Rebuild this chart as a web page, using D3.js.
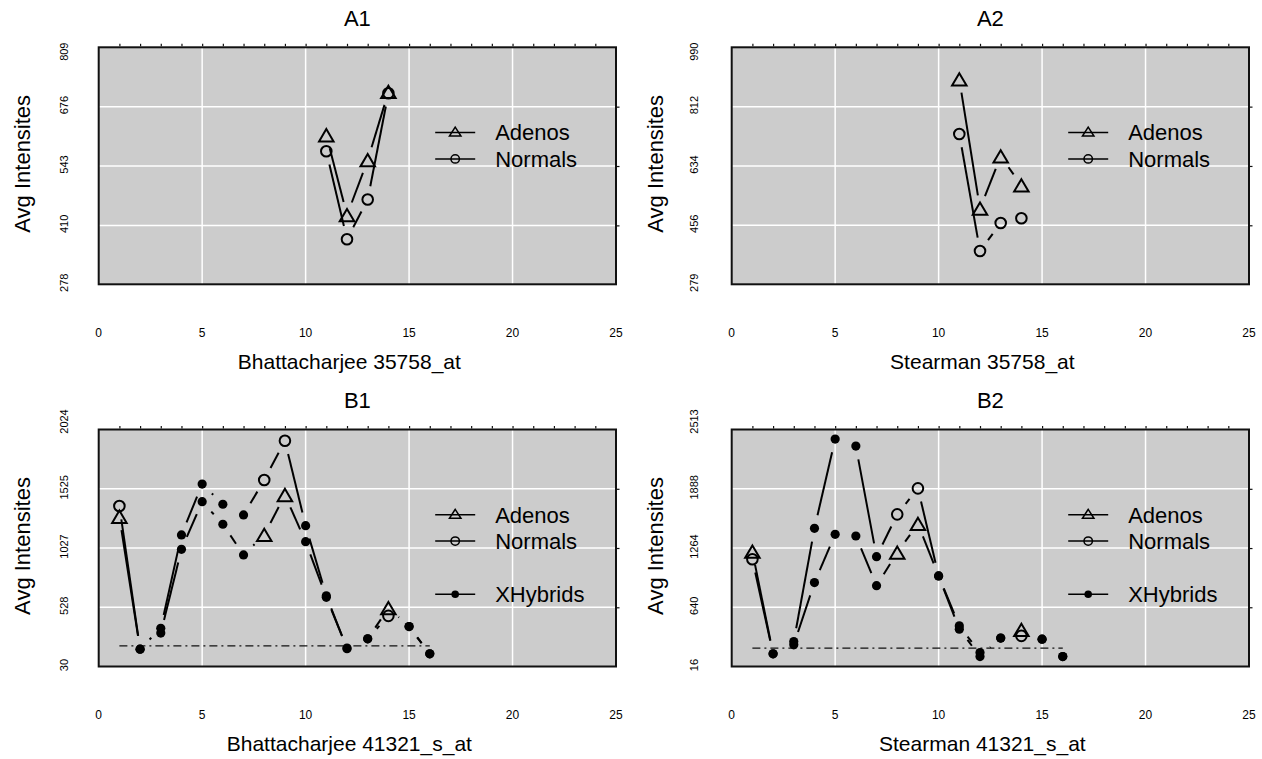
<!DOCTYPE html>
<html><head><meta charset="utf-8">
<style>
body{margin:0;background:#fff;}
svg text{font-family:"Liberation Sans",Arial,Helvetica,sans-serif;fill:#000;}
</style></head><body>
<script src="https://cdn.jsdelivr.net/npm/d3@7/dist/d3.min.js"></script>
<script>
const xTicks = [0, 5, 10, 15, 20, 25];

// probe set 35758_at, probes 11-14
const probesA = [11, 12, 13, 14];
const a1Adenos = [612, 433, 556, 709];
const a1Normals = [576, 379, 468, 706];
const a1YTicks = [278, 410, 543, 676, 809];
const a2Adenos = [894, 506, 663, 576];
const a2Normals = [730, 379, 463, 477];
const a2YTicks = [279, 456, 634, 812, 990];

// probe set 41321_s_at, probes 1-16
const probesB = [1, 2, 3, 4, 5, 6, 7, 8, 9, 10, 11, 12, 13, 14, 15, 16];
const xhybridProbes = [2, 3, 4, 5, 6, 7, 10, 11, 12, 13, 15, 16];
const b1Adenos = [1290, 176, 311, 1016, 1417, 1227, 969, 1137, 1473, 1080, 612, 185, 263, 521, 366, 137];
const b1Normals = [1380, 176, 352, 1137, 1565, 1395, 1305, 1599, 1929, 1215, 625, 180, 263, 456, 366, 137];
const b1Cutoff = 204;
const b1YTicks = [30, 528, 1027, 1525, 2024];
const b2Adenos = [1226, 150, 244, 900, 1409, 1391, 868, 1216, 1518, 970, 409, 121, 315, 402, 304, 121];
const b2Normals = [1146, 150, 279, 1472, 2412, 2338, 1173, 1619, 1893, 970, 444, 163, 315, 339, 304, 121];
const b2Cutoff = 210;
const b2YTicks = [16, 640, 1264, 1888, 2513];

const W = 1262, H = 759;
const plotW = 517.3, plotH = 237;
const gap = 13.5;

const panels = [
  {title: "A1", xlab: "Bhattacharjee 35758_at", probes: probesA, adenos: a1Adenos, normals: a1Normals, yTicks: a1YTicks, left: 98.7, top: 47.3, tickX: 63.7, topShift: 4.4},
  {title: "A2", xlab: "Stearman 35758_at", probes: probesA, adenos: a2Adenos, normals: a2Normals, yTicks: a2YTicks, left: 731.7, top: 47.3, tickX: 694, topShift: 4.4},
  {title: "B1", xlab: "Bhattacharjee 41321_s_at", probes: probesB, adenos: b1Adenos, normals: b1Normals, cutoff: b1Cutoff, yTicks: b1YTicks, left: 98.7, top: 429.5, tickX: 63.7, topShift: -8},
  {title: "B2", xlab: "Stearman 41321_s_at", probes: probesB, adenos: b2Adenos, normals: b2Normals, cutoff: b2Cutoff, yTicks: b2YTicks, left: 731.7, top: 429.5, tickX: 694, topShift: -8}
];

const svg = d3.select("body").append("svg")
  .attr("width", W)
  .attr("height", H);

function triPath(w, h) {
  return "M0," + (-h / 2) + "L" + (w / 2) + "," + (h / 2) + "L" + (-w / 2) + "," + (h / 2) + "Z";
}

// lines with gaps round the points, like type="b"
function gappedSegments(pts) {
  var segs = [];
  for (var i = 0; i < pts.length - 1; i++) {
    var p = pts[i], q = pts[i + 1];
    var dx = q[0] - p[0], dy = q[1] - p[1];
    var len = Math.sqrt(dx * dx + dy * dy);
    if (len <= 2 * gap) continue;
    var ux = dx / len, uy = dy / len;
    segs.push([p[0] + ux * gap, p[1] + uy * gap, q[0] - ux * gap, q[1] - uy * gap]);
  }
  return segs;
}

panels.forEach(function(p) {
  var x = d3.scaleLinear().domain([0, 25]).range([p.left, p.left + plotW]);
  var y = d3.scaleLinear().domain([p.yTicks[0], p.yTicks[4]]).range([p.top + plotH, p.top]);
  var bottom = p.top + plotH;
  var cx = p.left + plotW / 2;
  var g = svg.append("g");

  g.append("rect")
    .attr("x", p.left).attr("y", p.top)
    .attr("width", plotW).attr("height", plotH)
    .attr("fill", "#cccccc");

  // grid
  g.selectAll(".vg").data([5, 10, 15, 20]).enter().append("line")
    .attr("x1", d => x(d)).attr("x2", d => x(d))
    .attr("y1", p.top).attr("y2", bottom)
    .attr("stroke", "#fff").attr("stroke-width", 1.5);
  g.selectAll(".hg").data(p.yTicks.slice(1, 4)).enter().append("line")
    .attr("x1", p.left).attr("x2", p.left + plotW)
    .attr("y1", d => y(d)).attr("y2", d => y(d))
    .attr("stroke", "#fff").attr("stroke-width", 1.5);

  // border
  g.append("rect")
    .attr("x", p.left).attr("y", p.top)
    .attr("width", plotW).attr("height", plotH)
    .attr("fill", "none").attr("stroke", "#111").attr("stroke-width", 2);

  // minor ticks along the top
  var topAxis = g.append("g")
    .attr("transform", "translate(0," + (p.top - 1) + ")")
    .call(d3.axisTop(x).tickValues(d3.range(1, 25)).tickSize(2.5).tickFormat(""));
  topAxis.select(".domain").remove();
  topAxis.selectAll("line").attr("stroke", "#111").attr("stroke-width", 1.2);

  // ticks on the right edge
  var rightAxis = g.append("g")
    .attr("transform", "translate(" + (p.left + plotW + 1) + ",0)")
    .call(d3.axisRight(y).tickValues(p.yTicks.slice(1, 4)).tickSize(2.5).tickFormat(""));
  rightAxis.select(".domain").remove();
  rightAxis.selectAll("line").attr("stroke", "#111").attr("stroke-width", 1.2);

  // x tick labels
  g.selectAll(".xt").data(xTicks).enter().append("text")
    .attr("x", d => x(d)).attr("y", bottom + 48 + 4.3)
    .attr("text-anchor", "middle")
    .attr("font-size", "12px")
    .text(d => d);

  // y tick labels, rotated
  g.selectAll(".yt").data(p.yTicks).enter().append("text")
    .attr("transform", function(d, i) {
      var yy = y(d) + (i === 4 ? p.topShift : -1.5);
      return "translate(" + (p.tickX + 4) + "," + yy + ") rotate(-90)";
    })
    .attr("text-anchor", "middle")
    .attr("font-size", "11px")
    .text(d => d);

  // titles
  g.append("text")
    .attr("x", cx).attr("y", p.top - 29 + 7.7)
    .attr("text-anchor", "middle")
    .attr("font-size", "22px")
    .text(p.title);
  g.append("text")
    .attr("x", cx - 8).attr("y", bottom + 77 + 7.4)
    .attr("text-anchor", "middle")
    .attr("font-size", "21px")
    .text(p.xlab);
  g.append("text")
    .attr("transform", "translate(" + (p.left - 76.7 + 7.7) + "," + (p.top + plotH / 2 - 2) + ") rotate(-90)")
    .attr("text-anchor", "middle")
    .attr("font-size", "22px")
    .text("Avg Intensites");

  // cutoff line
  if (p.cutoff !== undefined) {
    g.append("line")
      .attr("x1", x(p.probes[0])).attr("x2", x(p.probes[p.probes.length - 1]))
      .attr("y1", y(p.cutoff)).attr("y2", y(p.cutoff))
      .attr("stroke", "#111").attr("stroke-width", 1.3)
      .attr("stroke-dasharray", "8,4,2,4");
  }

  // series
  [["adenos", p.adenos], ["normals", p.normals]].forEach(function(s) {
    var pts = p.probes.map((pr, i) => [x(pr), y(s[1][i])]);
    g.selectAll(null).data(gappedSegments(pts)).enter().append("line")
      .attr("x1", d => d[0]).attr("y1", d => d[1])
      .attr("x2", d => d[2]).attr("y2", d => d[3])
      .attr("stroke", "#000").attr("stroke-width", 2);

    p.probes.forEach(function(pr, i) {
      var px = x(pr), py = y(s[1][i]);
      if (p.probes === probesB && xhybridProbes.indexOf(pr) >= 0) {
        g.append("circle").attr("cx", px).attr("cy", py).attr("r", 4.6).attr("fill", "#000");
      } else if (s[0] === "adenos") {
        g.append("path").attr("d", triPath(14.5, 12.3))
          .attr("transform", "translate(" + px + "," + py + ")")
          .attr("fill", "none").attr("stroke", "#000").attr("stroke-width", 2);
      } else {
        g.append("circle").attr("cx", px).attr("cy", py).attr("r", 5.3)
          .attr("fill", "none").attr("stroke", "#000").attr("stroke-width", 2);
      }
    });
  });

  // legend
  var lx1 = p.left + 336.5, lx2 = p.left + 376.5, tx = p.left + 396.5;
  var rows = [["Adenos", "tri", p.top + 85.3], ["Normals", "circ", p.top + 111.6]];
  if (p.cutoff !== undefined) rows.push(["XHybrids", "dot", p.top + 164.8]);
  var lg = g.append("g");
  rows.forEach(function(r) {
    lg.append("line").attr("x1", lx1).attr("x2", lx2).attr("y1", r[2]).attr("y2", r[2])
      .attr("stroke", "#000").attr("stroke-width", 1.5);
    var mx = (lx1 + lx2) / 2;
    if (r[1] === "tri") {
      lg.append("path").attr("d", triPath(11.5, 9))
        .attr("transform", "translate(" + mx + "," + (r[2] - 1) + ")")
        .attr("fill", "none").attr("stroke", "#000").attr("stroke-width", 1.5);
    } else if (r[1] === "circ") {
      lg.append("circle").attr("cx", mx).attr("cy", r[2]).attr("r", 4.2)
        .attr("fill", "none").attr("stroke", "#000").attr("stroke-width", 1.5);
    } else {
      lg.append("circle").attr("cx", mx).attr("cy", r[2]).attr("r", 3.8).attr("fill", "#000");
    }
    lg.append("text").attr("x", tx).attr("y", r[2] + 7.7)
      .attr("font-size", "22px").text(r[0]);
  });
});
</script></body></html>
